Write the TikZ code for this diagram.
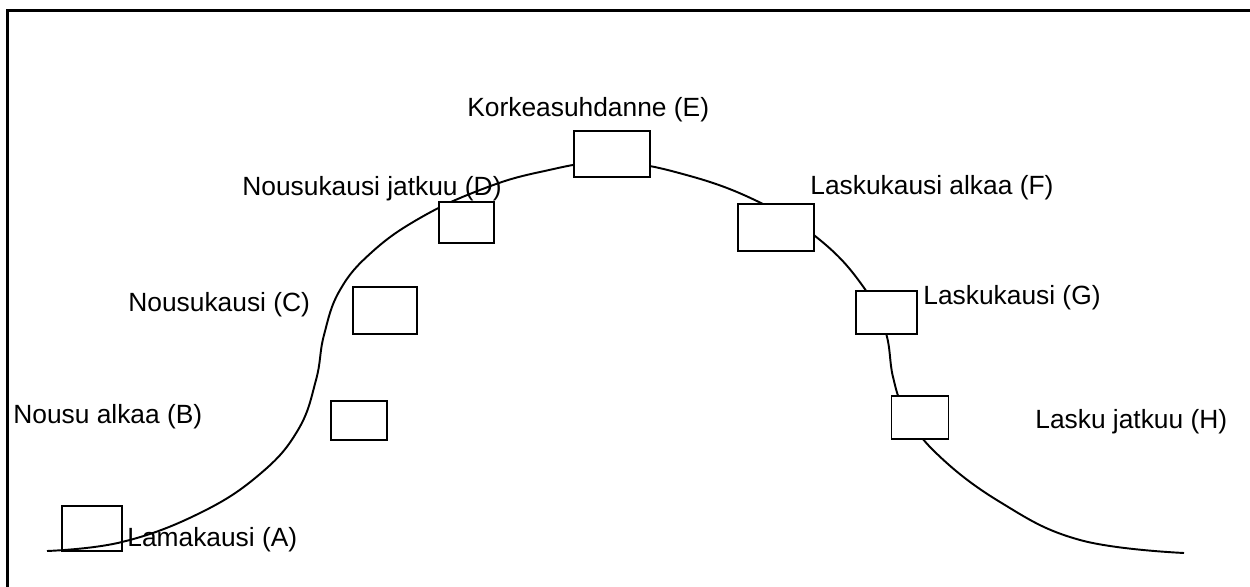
\documentclass[tikz,border=0pt]{standalone}
\usepackage{fontspec}
\setmainfont{Liberation Sans}
\usetikzlibrary{calc}
\tikzset{
	box/.style={draw, line width=1.1pt, fill=white, inner sep=0pt},
	phase/.style={anchor=base west, inner sep=0pt, font=\fontsize{15}{18}\selectfont},
}

\begin{document}
\begin{tikzpicture}[x=0.02cm, y=-0.02cm]
			%%%%% START %%%%%
			
			\useasboundingbox (0, 0) rectangle (1250, 587);
			\draw[line width=1.7pt] (1250, 10.5) -- (7.5, 10.5) -- (7.5, 587);
			
			\draw[line width=1.1pt] plot[smooth, tension=0.7] coordinates {
				(47, 551) (122, 542) (200, 513) (260, 474) (298, 430) (316, 380)
				(324, 335) (340, 290) (372, 252) (420, 218) (480, 190) (540, 172)
				(612, 162) (690, 176) (763, 204) (820, 240) (862, 285) (885, 330)
				(893, 377) (905, 410) (935, 452) (1000, 502) (1080, 540) (1184, 553)};
			
			\node[box, fill=none, minimum width=1.2cm, minimum height=0.9cm] (boxA) at (92, 528.5) {};
			\node[box, minimum width=1.12cm, minimum height=0.78cm] (boxB) at (359, 420.5) {};
			\node[box, minimum width=1.28cm, minimum height=0.94cm] (boxC) at (385, 310.5) {};
			\node[box, minimum width=1.1cm, minimum height=0.82cm] (boxD) at (466.5, 222.5) {};
			\node[box, minimum width=1.52cm, minimum height=0.92cm] (boxE) at (612, 154) {};
			\node[box, minimum width=1.52cm, minimum height=0.94cm] (boxF) at (776, 227.5) {};
			\node[box, minimum width=1.22cm, minimum height=0.86cm] (boxG) at (886.5, 312.5) {};
			\node[box, minimum width=1.14cm, minimum height=0.86cm] (boxH) at (920, 417.5) {};
			
			\node[phase] (labA) at (127, 546) {Lamakausi (A)};
			\node[phase] (labB) at (13, 423) {Nousu alkaa (B)};
			\node[phase] (labC) at (128, 312) {Nousukausi (C)};
			\node[phase] (labD) at (242, 196) {Nousukausi jatkuu (D)};
			\node[phase] (labE) at (467, 117) {Korkeasuhdanne (E)};
			\node[phase] (labF) at (810, 195) {Laskukausi alkaa (F)};
			\node[phase] (labG) at (923, 305) {Laskukausi (G)};
			\node[phase] (labH) at (1035, 428) {Lasku jatkuu (H)};
			
			%%%%% END %%%%%
\end{tikzpicture}
\end{document}
